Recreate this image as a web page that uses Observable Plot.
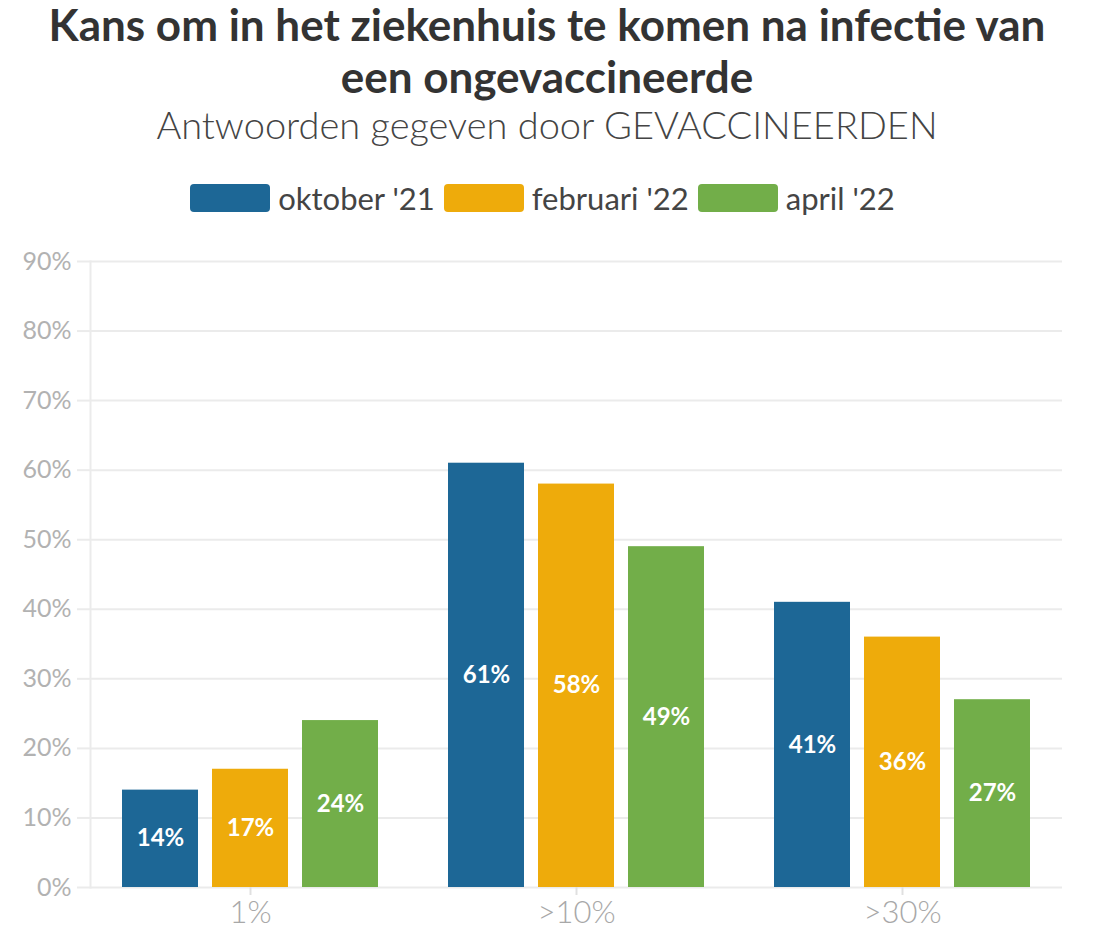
<!DOCTYPE html>
<html>
<head>
<meta charset="utf-8">
<script src="https://cdn.jsdelivr.net/npm/d3@7"></script>
<script src="https://cdn.jsdelivr.net/npm/@observablehq/plot@0.6"></script>
<style>
  html, body { margin: 0; padding: 0; background: #fff; }
  #wrap { position: relative; width: 1094px; height: 940px; font-family: Lato, "Noto Sans", sans-serif; color: #333; }
  .title { position: absolute; left: 0; width: 1094px; text-align: center; font-size: 44px; line-height: 44px; font-weight: 700; color: #333; white-space: nowrap; }
  #title1 { top: 2px; }
  #title2 { top: 54px; }
  #subtitle { position: absolute; left: 0; top: 101px; width: 1094px; text-align: center; font-size: 38px; line-height: 46px; font-weight: 300; color: #444; }
  #legend { position: absolute; left: 0; top: 180px; width: 1094px; height: 36px; display: flex; justify-content: center; align-items: center; font-size: 31px; color: #444; font-weight: 400; }
  #legend .sw { width: 80px; height: 28px; border-radius: 4px; margin-right: 8px; }
  #legend .lab { margin-right: 9px; }
  #chart { position: absolute; left: 0; top: 230px; width: 1094px; height: 700px; }
  #chart svg { position: absolute; left: 0; top: 0; }
</style>
</head>
<body>
<div id="wrap">
  <div class="title" id="title1">Kans om in het ziekenhuis te komen na infectie van</div>
  <div class="title" id="title2">een ongevaccineerde</div>
  <div id="subtitle">Antwoorden gegeven door GEVACCINEERDEN</div>
  <div id="legend"></div>
  <div id="chart"></div>
</div>
<script>
const categories = ["1%", ">10%", ">30%"];
const series = ["oktober '21", "februari '22", "april '22"];
const oktober21 = [14, 61, 41];
const februari22 = [17, 58, 36];
const april22 = [24, 49, 27];
const colors = ["#1d6796", "#eeab0b", "#72ae49"];
const yTicks = [0, 10, 20, 30, 40, 50, 60, 70, 80, 90];

const valuesBySeries = [oktober21, februari22, april22];
const data = categories.flatMap((c, i) =>
  series.map((s, j) => ({category: c, series: s, value: valuesBySeries[j][i]}))
);

// legend
const legend = document.getElementById("legend");
series.forEach((s, j) => {
  const sw = document.createElement("span");
  sw.className = "sw";
  sw.style.background = colors[j];
  const lab = document.createElement("span");
  lab.className = "lab";
  lab.textContent = s;
  legend.appendChild(sw);
  legend.appendChild(lab);
});

const common = {
  width: 1094,
  height: 700,
  marginLeft: 90,
  marginRight: 32,
  marginTop: 31,
  marginBottom: 43,
  style: {fontFamily: "Lato, 'Noto Sans', sans-serif", background: "transparent", overflow: "visible"},
  y: {domain: [0, 90], label: null}
};

// background layer: continuous grid + y axis
const back = Plot.plot({
  ...common,
  marks: [
    Plot.ruleY(yTicks, {stroke: "#ebebeb", strokeWidth: 2}),
    Plot.frame({anchor: "left", stroke: "#ebebeb", strokeWidth: 2}),
    Plot.axisY(yTicks, {tickFormat: d => d + "%", tickSize: 13, stroke: "#ebebeb", strokeWidth: 2, tickPadding: 6, fontSize: 25, fontWeight: 400, fill: "#b2b2b2", label: null})
  ]
});

// front layer: grouped bars
const front = Plot.plot({
  ...common,
  fx: {domain: categories, paddingInner: 0.215, paddingOuter: 0.098, axis: null, label: null},
  x: {domain: series, paddingInner: 0.156, paddingOuter: 0, axis: null, label: null},
  color: {domain: series, range: colors},
  marks: [
    Plot.barY(data, {fx: "category", x: "series", y: "value", fill: "series"}),
    Plot.text(data, {fx: "category", x: "series", y: d => d.value / 2, text: d => d.value + "%", fill: "white", fontWeight: "bold", fontSize: 24}),
    Plot.axisFx({anchor: "bottom", tickSize: 8, stroke: "#e0e0e0", strokeWidth: 2, tickPadding: 5, fontSize: 31, fontWeight: 300, fill: "#a8a8a8", label: null}),
    Plot.axisY({ticks: [], label: null})
  ]
});
const chartDiv = document.getElementById("chart");
chartDiv.appendChild(back);
chartDiv.appendChild(front);
</script>
</body>
</html>
